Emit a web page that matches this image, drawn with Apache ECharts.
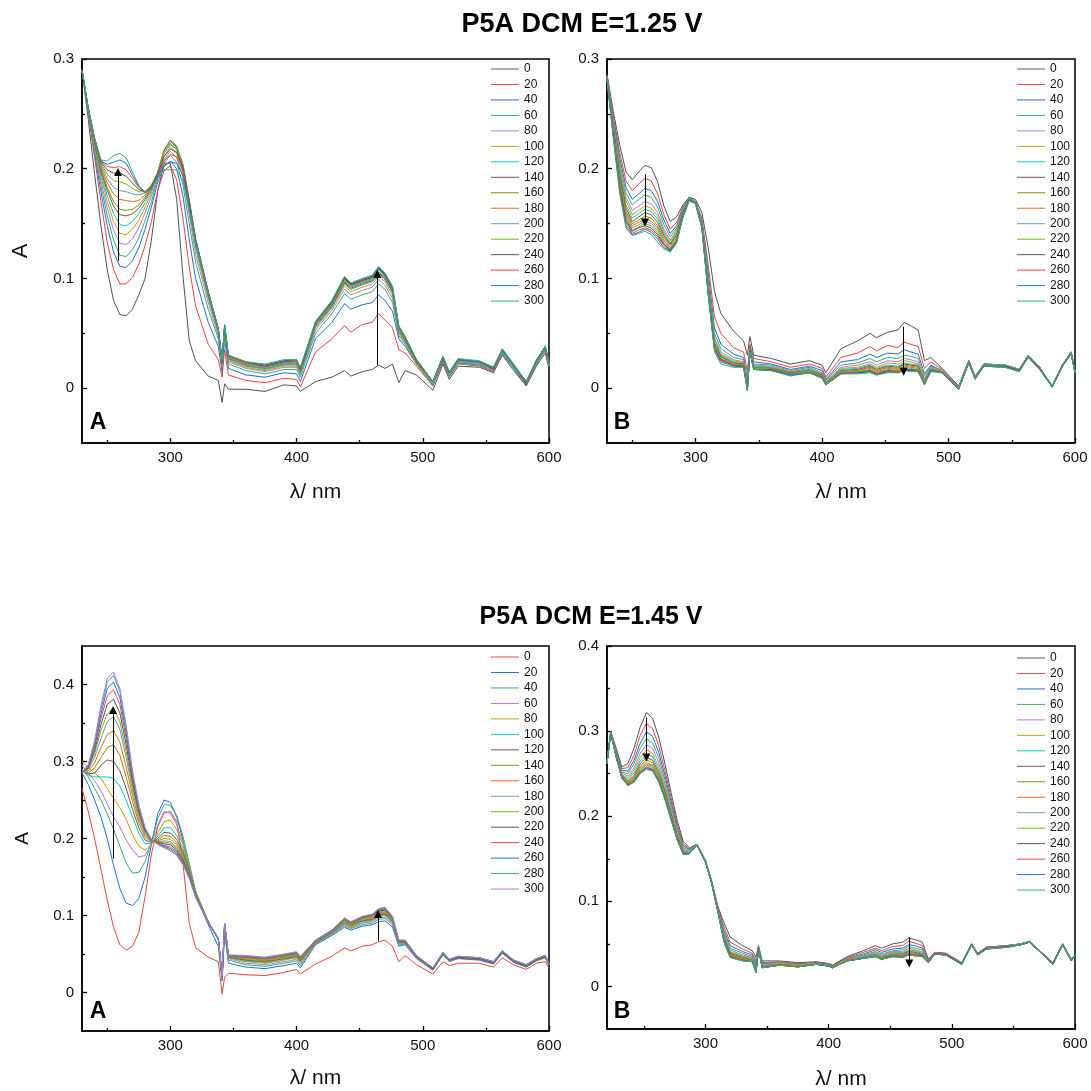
<!DOCTYPE html>
<html><head><meta charset="utf-8">
<script src="https://cdn.jsdelivr.net/npm/echarts@6/dist/echarts.min.js"></script>
<style>html,body{margin:0;padding:0;background:#fff}#c{width:1091px;height:1091px}</style>
</head><body><div id="c"></div><script>
// ---------- DATA ----------
const times = ['0','20','40','60','80','100','120','140','160','180','200','220','240','260','280','300'];
const wlA = [230,235,240,245,250,255,260,265,270,275,280,285,290,295,300,305,310,315,320,330,338,341,343,346,360,375,390,400,403,415,428,438,443,452,460,465,470,476,481,486,495,508,516,521,528,545,556,563,572,582,590,597,600];
const wlB = [220,223,227,232,237,242,247,252,257,262,267,272,277,282,287,293,300,305,310,315,320,330,338,341,343,346,360,375,390,400,403,415,428,438,443,452,460,465,470,476,481,486,495,508,516,521,528,545,556,563,572,582,590,597,600];
const xTicks = [300,400,500,600];
const xMinorTicks = [250,350,450,550];
const yTicks125 = [0,0.1,0.2,0.3];
const yMinor125 = [0.05,0.15,0.25];
const yTicksBL = [0,0.1,0.2,0.3,0.4];
const yMinorBL = [0.05,0.15,0.25,0.35];
const yTicksBR = [0,0.1,0.2,0.3,0.4];
const yMinorBR = [0.05,0.15,0.25,0.35];

// Top-left: E=1.25 V, A
const TL_0   = [.290,.245,.195,.148,.108,.080,.067,.066,.072,.085,.100,.135,.180,.205, .205,.172,.102,.043,.025,.011, .007,-.013,.004,-.001, -.001,-.003,.003,.002,-.003, .006,.010,.016,.011,.015,.017,.021,.018,.022,.005,.016, .012,-.002,.022,.008,.020,.019,.014,.030,.016,.002,.020,.032,.018];
const TL_20  = [.290,.250,.210,.170,.133,.108,.095,.095,.101,.113,.130,.152,.180,.198, .203,.190,.155,.110,.075,.040, .026,.010,.035,.012, .007,.005,.009,.008,.001, .033,.045,.057,.051,.058,.060,.068,.062,.055,.035,.032, .020,.002,.024,.010,.022,.020,.015,.031,.018,.002,.022,.034,.020];
const TL_40  = [.290,.251,.214,.179,.148,.124,.111,.110,.116,.128,.145,.165,.188,.202, .207,.200,.175,.135,.100,.060, .038,.015,.045,.018, .012,.010,.014,.013,.006, .045,.060,.077,.072,.076,.078,.085,.080,.070,.045,.038, .022,.003,.025,.011,.023,.021,.016,.032,.018,.003,.022,.035,.020];
const TL_60  = [.290,.252,.217,.185,.157,.135,.121,.120,.126,.137,.153,.170,.191,.205, .212,.206,.185,.150,.115,.072, .045,.018,.050,.022, .016,.013,.017,.017,.010, .050,.068,.086,.081,.085,.088,.095,.090,.078,.048,.040, .022,.003,.026,.011,.023,.021,.016,.032,.018,.003,.022,.035,.020];
const TL_80  = [.290,.252,.219,.189,.164,.144,.132,.131,.136,.146,.160,.175,.193,.208, .216,.210,.192,.158,.122,.078, .048,.020,.052,.024, .018,.015,.019,.019,.012, .053,.071,.090,.085,.089,.092,.099,.094,.082,.050,.041, .023,.004,.026,.012,.024,.022,.016,.033,.019,.004,.023,.035,.021];
const TL_100 = [.290,.253,.221,.193,.170,.152,.141,.140,.145,.153,.165,.178,.195,.211, .220,.214,.196,.162,.127,.082, .050,.021,.053,.025, .019,.016,.020,.020,.013, .055,.073,.093,.088,.092,.095,.102,.097,.085,.051,.042, .023,.004,.027,.012,.024,.022,.017,.033,.019,.004,.023,.036,.021];
const TL_120 = [.290,.253,.222,.196,.175,.159,.149,.148,.152,.159,.169,.180,.196,.214, .223,.217,.199,.165,.130,.084, .051,.022,.054,.026, .020,.017,.021,.021,.014, .056,.074,.095,.090,.094,.097,.104,.099,.087,.052,.043, .024,.004,.027,.012,.024,.022,.017,.033,.019,.004,.023,.036,.021];
const TL_140 = [.290,.254,.223,.198,.180,.166,.158,.157,.159,.164,.172,.182,.197,.216, .225,.219,.201,.167,.132,.085, .052,.022,.055,.027, .021,.018,.022,.022,.015, .057,.075,.096,.091,.095,.098,.105,.100,.088,.053,.044, .024,.005,.027,.013,.025,.023,.017,.034,.020,.004,.024,.036,.022];
const TL_160 = [.290,.254,.224,.200,.183,.170,.163,.162,.163,.167,.174,.183,.197,.217, .226,.220,.203,.169,.134,.086, .053,.023,.055,.027, .021,.018,.022,.023,.015, .058,.076,.097,.092,.096,.099,.106,.101,.089,.054,.044, .024,.005,.027,.013,.025,.023,.018,.034,.020,.005,.024,.037,.022];
const TL_180 = [.290,.254,.225,.202,.187,.177,.172,.171,.170,.171,.176,.184,.197,.217, .226,.221,.204,.170,.135,.087, .053,.023,.056,.028, .022,.019,.023,.023,.016, .058,.077,.098,.093,.097,.100,.108,.102,.090,.054,.045, .025,.005,.028,.013,.025,.023,.018,.034,.020,.005,.024,.037,.022];
const TL_200 = [.290,.255,.226,.204,.191,.183,.180,.179,.177,.176,.178,.185,.196,.216, .225,.220,.204,.171,.136,.088, .054,.024,.056,.028, .022,.019,.023,.024,.016, .059,.077,.099,.093,.097,.100,.108,.102,.090,.055,.045, .025,.005,.028,.013,.025,.023,.018,.034,.020,.005,.024,.037,.022];
const TL_220 = [.290,.255,.226,.205,.195,.189,.188,.186,.182,.179,.179,.185,.196,.214, .222,.218,.203,.171,.136,.088, .054,.024,.057,.029, .023,.020,.024,.024,.017, .059,.078,.099,.094,.098,.101,.109,.103,.091,.055,.046, .025,.006,.028,.014,.026,.024,.018,.035,.021,.005,.025,.038,.023];
const TL_240 = [.290,.255,.227,.206,.199,.196,.196,.193,.187,.181,.179,.184,.195,.211, .218,.215,.201,.170,.136,.088, .054,.024,.057,.029, .023,.020,.024,.025,.017, .060,.078,.100,.094,.098,.101,.109,.103,.091,.056,.046, .025,.006,.028,.014,.026,.024,.018,.035,.021,.005,.025,.038,.023];
const TL_260 = [.290,.255,.227,.207,.202,.201,.202,.199,.191,.183,.179,.183,.194,.207, .213,.211,.198,.168,.135,.088, .054,.025,.057,.029, .023,.021,.025,.025,.018, .060,.079,.101,.095,.099,.102,.110,.104,.092,.056,.047, .026,.006,.029,.014,.026,.024,.019,.035,.021,.006,.025,.038,.023];
const TL_280 = [.290,.255,.228,.207,.204,.206,.208,.205,.194,.184,.178,.182,.193,.203, .206,.205,.194,.166,.134,.087, .054,.025,.057,.030, .024,.021,.025,.026,.018, .060,.079,.101,.095,.099,.102,.110,.104,.092,.056,.047, .026,.006,.029,.014,.026,.024,.019,.035,.021,.006,.025,.038,.023];
const TL_300 = [.290,.255,.228,.208,.207,.212,.214,.210,.197,.185,.178,.181,.192,.199, .199,.199,.189,.163,.132,.087, .054,.025,.058,.030, .024,.022,.026,.026,.019, .061,.080,.102,.096,.100,.103,.111,.105,.093,.057,.047, .026,.006,.029,.015,.027,.025,.019,.036,.022,.006,.026,.038,.024];

// Top-right: E=1.25 V, B
const TR_0   = [.286,.252,.222,.197,.190,.197,.203,.201,.188,.166,.152,.156,.167,.174, .172,.160,.128,.088,.068,.052, .043,.030,.047,.030, .027,.022,.025,.021,.014, .036,.043,.050,.046,.051,.053,.060,.057,.053,.025,.028, .018,.002,.025,.011,.022,.021,.017,.030,.019,.002,.021,.033,.016];
const TR_20  = [.285,.248,.215,.189,.180,.186,.191,.189,.177,.158,.145,.151,.165,.174, .170,.155,.112,.065,.050,.037, .033,.015,.040,.027, .024,.019,.022,.018,.010, .028,.032,.038,.034,.039,.037,.042,.040,.038,.018,.024, .017,.001,.025,.010,.022,.021,.017,.030,.019,.002,.021,.033,.015];
const TR_40  = [.285,.245,.210,.183,.172,.177,.182,.180,.170,.153,.141,.148,.164,.174, .170,.153,.105,.055,.040,.031, .028,.008,.038,.024, .022,.017,.020,.016,.008, .024,.026,.031,.028,.032,.031,.035,.033,.031,.013,.021, .016,.001,.025,.010,.022,.021,.017,.030,.019,.002,.021,.033,.015];
const TR_60  = [.284,.243,.206,.178,.167,.172,.176,.174,.165,.149,.138,.146,.163,.173, .170,.152,.100,.050,.036,.028, .026,.005,.037,.022, .021,.016,.019,.014,.007, .021,.023,.027,.024,.028,.027,.030,.029,.027,.011,.020, .016,.001,.024,.010,.022,.021,.017,.030,.019,.002,.021,.033,.015];
const TR_80  = [.284,.241,.202,.174,.162,.166,.170,.168,.160,.145,.135,.144,.162,.173, .169,.151,.097,.046,.033,.026, .024,.003,.036,.021, .020,.015,.018,.013,.006, .019,.021,.024,.021,.025,.024,.027,.026,.024,.009,.019, .016,.001,.024,.010,.021,.021,.017,.030,.019,.002,.021,.032,.015];
const TR_100 = [.284,.240,.200,.171,.158,.162,.166,.164,.157,.143,.134,.143,.161,.173, .169,.150,.095,.044,.031,.025, .023,.002,.036,.020, .019,.015,.017,.013,.006, .018,.019,.022,.019,.023,.022,.025,.024,.022,.008,.018, .016,.000,.024,.010,.021,.021,.017,.030,.019,.002,.021,.032,.015];
const TR_120 = [.283,.238,.197,.167,.155,.159,.163,.161,.154,.141,.132,.141,.160,.173, .169,.150,.093,.042,.030,.024, .022,.001,.035,.020, .019,.014,.017,.012,.005, .017,.018,.021,.018,.021,.020,.023,.022,.021,.007,.018, .015,.000,.024,.010,.021,.021,.017,.030,.019,.002,.021,.032,.015];
const TR_140 = [.283,.237,.195,.164,.152,.156,.160,.158,.151,.139,.131,.140,.160,.172, .169,.149,.092,.041,.029,.023, .022,.000,.035,.019, .018,.014,.016,.012,.005, .016,.017,.020,.017,.020,.019,.022,.021,.020,.006,.017, .015,.000,.024,.009,.021,.020,.016,.029,.018,.001,.021,.032,.015];
const TR_160 = [.283,.235,.192,.161,.150,.153,.157,.155,.148,.137,.130,.139,.159,.172, .169,.149,.091,.040,.028,.023, .021,.000,.035,.019, .018,.013,.016,.011,.004, .016,.016,.019,.016,.019,.018,.021,.020,.019,.006,.017, .015,.000,.024,.009,.021,.020,.016,.029,.018,.001,.020,.032,.014];
const TR_180 = [.283,.234,.190,.159,.148,.151,.154,.152,.146,.135,.128,.137,.158,.172, .168,.148,.090,.039,.027,.022, .021,-.001,.034,.018, .018,.013,.015,.011,.004, .015,.016,.018,.015,.018,.017,.020,.019,.018,.005,.017, .015,.000,.024,.009,.021,.020,.016,.029,.018,.001,.020,.032,.014];
const TR_200 = [.282,.233,.188,.157,.146,.149,.152,.150,.144,.134,.127,.136,.158,.172, .168,.148,.089,.038,.027,.022, .020,-.001,.034,.018, .017,.013,.015,.011,.004, .015,.015,.017,.014,.017,.016,.019,.018,.017,.005,.016, .015,.000,.023,.009,.021,.020,.016,.029,.018,.001,.020,.032,.014];
const TR_220 = [.282,.232,.186,.155,.144,.147,.150,.148,.142,.132,.126,.135,.157,.172, .168,.147,.088,.037,.026,.021, .020,-.001,.034,.018, .017,.012,.015,.010,.003, .014,.015,.016,.014,.016,.016,.018,.017,.017,.004,.016, .014,.000,.023,.009,.020,.020,.016,.029,.018,.001,.020,.031,.014];
const TR_240 = [.282,.231,.184,.153,.143,.146,.148,.146,.140,.131,.126,.134,.157,.172, .168,.147,.087,.036,.026,.021, .020,-.002,.034,.017, .017,.012,.014,.010,.003, .014,.014,.016,.013,.016,.015,.017,.017,.016,.004,.016, .014,-.001,.023,.009,.020,.020,.016,.029,.018,.001,.020,.031,.014];
const TR_260 = [.282,.230,.182,.151,.141,.144,.146,.144,.138,.130,.125,.133,.156,.171, .168,.147,.086,.036,.025,.021, .019,-.002,.033,.017, .016,.012,.014,.010,.003, .014,.014,.015,.013,.015,.015,.017,.016,.016,.004,.016, .014,-.001,.023,.009,.020,.019,.016,.029,.018,.001,.020,.031,.014];
const TR_280 = [.281,.229,.180,.148,.140,.142,.145,.142,.136,.128,.125,.133,.156,.171, .168,.146,.086,.035,.024,.020, .019,-.002,.033,.017, .016,.012,.014,.009,.003, .013,.014,.015,.012,.015,.014,.016,.016,.015,.003,.016, .014,-.001,.023,.008,.020,.019,.015,.028,.017,.001,.020,.031,.014];
const TR_300 = [.281,.228,.178,.146,.139,.141,.143,.140,.133,.127,.124,.132,.155,.171, .168,.146,.085,.033,.022,.019, .019,-.002,.033,.017, .016,.011,.014,.009,.003, .013,.013,.014,.012,.014,.014,.016,.015,.015,.003,.015, .014,-.001,.023,.008,.020,.019,.015,.028,.017,.001,.020,.031,.014];

// Bottom-left: E=1.45 V, A
const BL_0   = [.265,.235,.200,.160,.120,.085,.062,.055,.060,.078,.125,.180,.215,.233, .235,.222,.168,.090,.058,.046,.040, -.002,.020,.025, .023,.022,.026,.030,.024, .037,.047,.058,.054,.060,.062,.066,.068,.060,.040,.048, .036,.024,.040,.035,.038,.038,.033,.045,.036,.030,.038,.040,.032];
const BL_20  = [.285,.270,.250,.228,.200,.165,.135,.116,.113,.122,.150,.192,.232,.250, .247,.228,.198,.160,.128,.088,.060, .015,.078,.038, .033,.031,.035,.038,.032, .062,.074,.085,.081,.086,.088,.092,.093,.085,.060,.062, .044,.029,.049,.040,.044,.042,.037,.051,.039,.033,.041,.045,.035];
const BL_40  = [.290,.280,.265,.250,.232,.212,.190,.168,.155,.156,.170,.195,.226,.244, .243,.230,.203,.168,.132,.092,.068, .017,.082,.042, .036,.034,.038,.041,.035, .063,.075,.087,.083,.088,.090,.095,.096,.088,.062,.063, .045,.030,.050,.041,.045,.043,.038,.052,.040,.034,.042,.046,.036];
const BL_60  = [.295,.285,.275,.262,.245,.228,.215,.198,.185,.176,.178,.193,.217,.235, .233,.218,.195,.163,.130,.092,.070, .018,.085,.044, .038,.036,.040,.043,.037, .064,.076,.088,.084,.090,.092,.097,.098,.090,.063,.064, .045,.030,.050,.041,.045,.043,.038,.052,.040,.034,.042,.046,.036];
const BL_80  = [.300,.292,.285,.278,.265,.252,.240,.225,.205,.190,.185,.192,.207,.222, .224,.212,.192,.162,.130,.092,.070, .019,.086,.045, .040,.038,.042,.045,.039, .064,.077,.089,.085,.091,.093,.099,.100,.091,.064,.064, .045,.030,.050,.041,.045,.043,.038,.052,.040,.034,.042,.046,.036];
const BL_100 = [.290,.282,.280,.280,.280,.278,.268,.250,.228,.207,.193,.194,.203,.214, .214,.204,.187,.160,.129,.092,.070, .019,.087,.046, .041,.039,.043,.046,.040, .065,.077,.090,.086,.092,.094,.100,.101,.092,.064,.065, .046,.030,.050,.041,.045,.043,.038,.052,.040,.034,.042,.046,.036];
const BL_120 = [.288,.284,.285,.295,.302,.300,.288,.265,.238,.214,.198,.195,.200,.208, .207,.199,.183,.158,.128,.092,.070, .020,.087,.046, .042,.040,.044,.047,.041, .065,.078,.091,.087,.093,.095,.101,.102,.093,.065,.065, .046,.030,.050,.042,.045,.043,.038,.052,.040,.034,.042,.046,.036];
const BL_140 = [.287,.285,.292,.305,.318,.322,.308,.280,.248,.220,.202,.196,.198,.204, .203,.195,.180,.156,.127,.091,.070, .020,.088,.047, .043,.041,.045,.048,.042, .066,.078,.092,.087,.094,.096,.102,.103,.094,.065,.066, .046,.031,.051,.042,.046,.044,.039,.053,.041,.035,.043,.047,.037];
const BL_160 = [.287,.288,.298,.318,.335,.340,.325,.293,.256,.225,.205,.196,.197,.200, .199,.192,.178,.155,.126,.091,.070, .020,.088,.047, .044,.042,.046,.049,.043, .066,.079,.093,.088,.095,.097,.103,.104,.095,.066,.066, .046,.031,.051,.042,.046,.044,.039,.053,.041,.035,.043,.047,.037];
const BL_180 = [.286,.290,.305,.330,.352,.358,.342,.305,.263,.229,.207,.197,.196,.197, .196,.189,.176,.154,.126,.091,.070, .021,.088,.047, .045,.043,.047,.050,.044, .066,.079,.093,.089,.095,.098,.104,.105,.095,.066,.066, .046,.031,.051,.042,.046,.044,.039,.053,.041,.035,.043,.047,.037];
const BL_200 = [.286,.291,.310,.340,.362,.369,.352,.313,.268,.232,.208,.197,.195,.195, .194,.187,.174,.153,.126,.091,.070, .021,.089,.048, .045,.043,.047,.050,.044, .067,.080,.094,.089,.096,.099,.105,.106,.096,.066,.067, .047,.031,.051,.042,.046,.044,.039,.053,.041,.035,.043,.047,.037];
const BL_220 = [.286,.292,.314,.348,.374,.381,.363,.322,.273,.235,.210,.198,.195,.193, .192,.185,.172,.152,.125,.090,.070, .021,.089,.048, .046,.044,.048,.051,.045, .067,.080,.095,.090,.097,.100,.106,.107,.097,.067,.067, .047,.031,.051,.042,.046,.044,.039,.053,.041,.035,.043,.047,.037];
const BL_240 = [.286,.293,.318,.356,.385,.393,.374,.330,.278,.238,.211,.198,.194,.191, .189,.183,.170,.151,.125,.090,.070, .021,.089,.048, .046,.044,.048,.051,.045, .067,.080,.095,.090,.097,.100,.107,.108,.097,.067,.067, .047,.032,.052,.043,.047,.045,.040,.054,.042,.036,.044,.048,.038];
const BL_260 = [.286,.294,.322,.362,.395,.403,.383,.337,.282,.240,.212,.198,.193,.190, .187,.181,.168,.150,.124,.090,.070, .021,.089,.048, .047,.045,.049,.052,.046, .068,.081,.096,.091,.098,.101,.108,.109,.098,.067,.067, .047,.032,.052,.043,.047,.045,.040,.054,.042,.036,.044,.048,.038];
const BL_280 = [.286,.295,.325,.368,.403,.412,.391,.343,.285,.242,.213,.199,.193,.189, .185,.179,.167,.149,.124,.090,.070, .021,.090,.048, .047,.045,.049,.052,.046, .068,.081,.096,.091,.098,.101,.108,.110,.098,.068,.068, .048,.032,.052,.043,.047,.045,.040,.054,.042,.036,.044,.048,.038];
const BL_300 = [.286,.296,.327,.372,.408,.416,.395,.347,.288,.244,.214,.199,.192,.188, .184,.178,.166,.148,.124,.090,.070, .021,.090,.049, .048,.046,.050,.053,.047, .068,.081,.097,.092,.099,.102,.109,.111,.099,.068,.068, .048,.032,.052,.043,.047,.045,.040,.054,.042,.036,.044,.048,.038];

// Bottom-right: E=1.45 V, B
const BR_0   = [.265,.300,.282,.258,.262,.280,.305,.322,.315,.293,.262,.228,.195,.170,.163,.167, .148,.124,.094,.075,.058,.048, .042,.034,.048,.030, .030,.028,.029,.027,.025, .035,.042,.048,.045,.050,.052,.057,.055,.052,.032,.040, .039,.028,.050,.039,.046,.048,.050,.053,.041,.028,.050,.032,.037];
const BR_20  = [.264,.300,.280,.256,.257,.272,.295,.309,.303,.283,.254,.222,.191,.167,.162,.167, .148,.123,.093,.070,.052,.044, .039,.030,.047,.028, .029,.027,.028,.026,.024, .034,.040,.045,.042,.047,.048,.053,.051,.048,.031,.040, .039,.028,.050,.039,.046,.048,.050,.053,.041,.028,.050,.032,.037];
const BR_40  = [.264,.299,.279,.254,.253,.266,.286,.299,.294,.275,.248,.217,.187,.165,.161,.167, .147,.123,.092,.066,.048,.041, .037,.027,.046,.027, .028,.026,.028,.026,.024, .033,.038,.043,.040,.044,.045,.049,.048,.045,.030,.039, .038,.027,.050,.038,.046,.048,.050,.053,.041,.027,.050,.032,.037];
const BR_60  = [.264,.299,.277,.252,.250,.262,.280,.291,.286,.269,.243,.213,.184,.163,.160,.167, .147,.123,.091,.063,.045,.039, .035,.025,.046,.026, .028,.026,.027,.025,.023, .033,.037,.041,.038,.042,.043,.047,.045,.043,.030,.039, .038,.027,.050,.038,.045,.048,.050,.053,.041,.027,.050,.031,.037];
const BR_80  = [.263,.299,.276,.251,.247,.257,.274,.284,.280,.263,.238,.210,.182,.161,.159,.166, .147,.122,.091,.061,.043,.037, .034,.023,.045,.025, .027,.025,.027,.025,.023, .032,.036,.040,.037,.041,.041,.045,.043,.041,.029,.039, .038,.027,.050,.038,.045,.048,.050,.053,.041,.027,.050,.031,.037];
const BR_100 = [.263,.299,.275,.249,.245,.254,.269,.278,.274,.258,.234,.207,.180,.160,.158,.166, .147,.122,.090,.059,.041,.036, .033,.022,.045,.024, .027,.025,.027,.025,.023, .032,.035,.039,.036,.040,.040,.043,.042,.040,.029,.039, .038,.027,.049,.038,.045,.047,.050,.052,.041,.027,.049,.031,.037];
const BR_120 = [.263,.299,.275,.248,.243,.251,.265,.273,.270,.254,.231,.205,.178,.159,.158,.166, .147,.122,.090,.058,.040,.035, .032,.021,.045,.024, .026,.024,.026,.024,.022, .031,.035,.038,.035,.039,.039,.042,.041,.039,.029,.038, .038,.027,.049,.038,.045,.047,.050,.052,.041,.027,.049,.031,.037];
const BR_140 = [.263,.298,.274,.248,.241,.248,.262,.269,.266,.251,.229,.203,.177,.158,.157,.166, .147,.122,.089,.057,.039,.034, .031,.020,.045,.023, .026,.024,.026,.024,.022, .031,.034,.037,.034,.038,.038,.041,.040,.038,.029,.038, .038,.027,.049,.038,.045,.047,.049,.052,.041,.027,.049,.031,.037];
const BR_160 = [.263,.298,.274,.247,.240,.246,.259,.266,.263,.248,.227,.201,.176,.157,.157,.166, .146,.122,.089,.056,.038,.033, .031,.019,.044,.023, .026,.024,.026,.024,.022, .031,.034,.037,.034,.037,.037,.040,.039,.037,.028,.038, .037,.026,.049,.037,.045,.047,.049,.052,.040,.026,.049,.031,.036];
const BR_180 = [.262,.298,.273,.247,.239,.245,.257,.263,.260,.246,.225,.200,.175,.157,.157,.166, .146,.122,.089,.055,.037,.033, .030,.018,.044,.023, .026,.024,.026,.024,.022, .031,.034,.036,.033,.037,.036,.039,.038,.037,.028,.038, .037,.026,.049,.037,.045,.047,.049,.052,.040,.026,.049,.031,.036];
const BR_200 = [.262,.298,.273,.246,.238,.244,.255,.261,.259,.245,.224,.199,.174,.156,.157,.166, .146,.121,.088,.054,.036,.032, .030,.018,.044,.022, .025,.023,.026,.024,.022, .030,.034,.036,.033,.036,.036,.039,.038,.036,.028,.038, .037,.026,.049,.037,.044,.047,.049,.052,.040,.026,.049,.030,.036];
const BR_220 = [.262,.298,.273,.246,.238,.243,.254,.260,.257,.244,.223,.198,.174,.156,.156,.166, .146,.121,.088,.054,.036,.032, .030,.017,.044,.022, .025,.023,.026,.024,.022, .030,.033,.036,.033,.036,.035,.038,.037,.036,.028,.038, .037,.026,.049,.037,.044,.047,.049,.052,.040,.026,.049,.030,.036];
const BR_240 = [.262,.298,.272,.246,.237,.242,.252,.258,.255,.242,.222,.197,.173,.156,.156,.166, .146,.121,.088,.053,.035,.031, .029,.017,.044,.022, .025,.023,.026,.024,.022, .030,.033,.035,.032,.036,.035,.038,.037,.036,.028,.038, .037,.026,.049,.037,.044,.047,.049,.052,.040,.026,.049,.030,.036];
const BR_260 = [.262,.298,.272,.245,.237,.241,.252,.257,.255,.242,.221,.197,.173,.155,.156,.166, .146,.121,.088,.053,.035,.031, .029,.017,.044,.022, .025,.023,.026,.024,.022, .030,.033,.035,.032,.035,.035,.038,.037,.035,.028,.038, .037,.026,.049,.037,.044,.046,.049,.052,.040,.026,.049,.030,.036];
const BR_280 = [.262,.298,.272,.245,.236,.240,.251,.256,.254,.241,.220,.196,.172,.155,.156,.166, .146,.121,.088,.052,.034,.030, .029,.016,.044,.022, .025,.023,.026,.024,.022, .030,.033,.035,.032,.035,.034,.037,.036,.035,.028,.038, .037,.026,.049,.037,.044,.046,.049,.052,.040,.026,.049,.030,.036];
const BR_300 = [.262,.298,.272,.245,.236,.240,.250,.255,.253,.240,.220,.196,.172,.155,.156,.166, .146,.121,.088,.052,.034,.030, .029,.016,.044,.022, .025,.023,.026,.024,.022, .030,.033,.035,.032,.035,.034,.037,.036,.035,.028,.038, .037,.026,.049,.037,.044,.046,.049,.052,.040,.026,.049,.030,.036];

// arrows: [x1, y1, x2, y2] (arrow head at x2,y2)
const arrowsTL = [[258.5,0.116,258.5,0.197],[464,0.021,464,0.104]];
const arrowsTR = [[260,0.195,260,0.151],[464.5,0.056,464.5,0.015]];
const arrowsBL = [[254.6,0.174,254.6,0.367],[464.5,0.067,464.5,0.102]];
const arrowsBR = [[252,0.316,252,0.269],[465.4,0.058,465.4,0.027]];

const titles = ['P5A DCM E=1.25 V','P5A DCM E=1.45 V'];

// ---------- CHART ----------
const FONT = '"Liberation Sans", Arial, Helvetica, sans-serif';
const palette = ['#515151','#F14040','#1A6FDF','#37AD6B','#B177DE','#CC9900','#00CBCC','#7D4E4E','#8E8E00','#FB6501','#6699CC','#6FB802'];

const panels = [
  {id:'TL', curves:[TL_0,TL_20,TL_40,TL_60,TL_80,TL_100,TL_120,TL_140,TL_160,TL_180,TL_200,TL_220,TL_240,TL_260,TL_280,TL_300], wl:wlA,
   grid:{left:82,top:59,width:467,height:384}, xr:[230,600], yr:[-0.05,0.3], yT:yTicks125, yM:yMinor125, shift:0, leg:[491,63], arrows:arrowsTL,
   yName:'A', yNameSize:22, yNameGap:50, xNameGap:39},
  {id:'TR', curves:[TR_0,TR_20,TR_40,TR_60,TR_80,TR_100,TR_120,TR_140,TR_160,TR_180,TR_200,TR_220,TR_240,TR_260,TR_280,TR_300], wl:wlA,
   grid:{left:607,top:59,width:468,height:384}, xr:[230,600], yr:[-0.05,0.3], yT:yTicks125, yM:yMinor125, shift:0, leg:[1017,63], arrows:arrowsTR,
   yName:'', yNameSize:22, yNameGap:50, xNameGap:39},
  {id:'BL', curves:[BL_0,BL_20,BL_40,BL_60,BL_80,BL_100,BL_120,BL_140,BL_160,BL_180,BL_200,BL_220,BL_240,BL_260,BL_280,BL_300], wl:wlA,
   grid:{left:82,top:646,width:467,height:385}, xr:[230,600], yr:[-0.05,0.45], yT:yTicksBL, yM:yMinorBL, shift:1, leg:[491,651], arrows:arrowsBL,
   yName:'A', yNameSize:19, yNameGap:50, xNameGap:37},
  {id:'BR', curves:[BR_0,BR_20,BR_40,BR_60,BR_80,BR_100,BR_120,BR_140,BR_160,BR_180,BR_200,BR_220,BR_240,BR_260,BR_280,BR_300], wl:wlB,
   grid:{left:607,top:646,width:468,height:385}, xr:[220,600], yr:[-0.05,0.4], yT:yTicksBR, yM:yMinorBR, shift:0, leg:[1017,652], arrows:arrowsBR,
   yName:'', yNameSize:19, yNameGap:50, xNameGap:40}
];

const option = {animation:false, backgroundColor:'#fff', grid:[], xAxis:[], yAxis:[], legend:[], series:[], graphic:[]};
const axisLineStyle = {color:'#000', width:1.5};
const tickStyle = {color:'#000', width:1.3};
const legendLineIcon = 'path://M0,0L40,0L40,1.4L0,1.4Z';

panels.forEach((p, gi) => {
  option.grid.push(Object.assign({show:true, borderColor:'#000', borderWidth:1.5, backgroundColor:'transparent'}, p.grid));
  const xi = option.xAxis.length;
  option.xAxis.push({type:'value', gridIndex:gi, position:'bottom', min:p.xr[0], max:p.xr[1],
    name:'λ/ nm', nameLocation:'middle', nameGap:p.xNameGap, nameTextStyle:{fontSize:21, fontFamily:FONT, color:'#111'},
    axisLine:{show:true, onZero:false, lineStyle:axisLineStyle},
    axisTick:{show:true, inside:true, length:5, customValues:xTicks, lineStyle:tickStyle},
    axisLabel:{customValues:xTicks, fontSize:15, fontFamily:FONT, color:'#111', margin:7},
    splitLine:{show:false}});
  option.xAxis.push({type:'value', gridIndex:gi, position:'bottom', offset:0, min:p.xr[0], max:p.xr[1],
    axisLine:{show:false, onZero:false},
    axisTick:{show:true, inside:true, length:3, customValues:xMinorTicks, lineStyle:tickStyle},
    axisLabel:{show:false}, splitLine:{show:false}});
  const yi = option.yAxis.length;
  option.yAxis.push({type:'value', gridIndex:gi, position:'left', min:p.yr[0], max:p.yr[1],
    name:p.yName, nameLocation:'middle', nameGap:p.yNameGap, nameRotate:90, nameTextStyle:{fontSize:p.yNameSize, fontFamily:FONT, color:'#111'},
    axisLine:{show:true, onZero:false, lineStyle:axisLineStyle},
    axisTick:{show:true, inside:true, length:5, customValues:p.yT, lineStyle:tickStyle},
    axisLabel:{customValues:p.yT, fontSize:15, fontFamily:FONT, color:'#111', margin:8,
      formatter:v => Math.abs(v) < 1e-9 ? '0' : (+v).toFixed(1)},
    splitLine:{show:false}});
  option.yAxis.push({type:'value', gridIndex:gi, position:'left', offset:0, min:p.yr[0], max:p.yr[1],
    axisLine:{show:false, onZero:false},
    axisTick:{show:true, inside:true, length:3, customValues:p.yM, lineStyle:tickStyle},
    axisLabel:{show:false}, splitLine:{show:false}});

  p.curves.forEach((arr, k) => {
    const col = palette[(k + p.shift) % palette.length];
    const s = {type:'line', name:p.id + ' ' + times[k], xAxisIndex:xi, yAxisIndex:yi,
      data:p.wl.map((w, j) => [w, arr[j]]), showSymbol:false, symbol:'none',
      lineStyle:{width:1, color:col}, itemStyle:{color:col}, emphasis:{disabled:true}, silent:true, z:2};
    if (k === p.curves.length - 1) {
      s.markLine = {silent:true, symbol:['none','triangle'], symbolSize:8, animation:false,
        label:{show:false}, lineStyle:{color:'#000', width:1, type:'solid'}, emphasis:{disabled:true},
        data:p.arrows.map(a => [{coord:[a[0], a[1]]}, {coord:[a[2], a[3]]}])};
    }
    option.series.push(s);
  });

  option.legend.push({orient:'vertical', left:p.leg[0], top:p.leg[1], padding:0, itemWidth:28, itemHeight:12, itemGap:3.47,
    icon:legendLineIcon, symbolKeepAspect:true,
    selectedMode:false, data:times.map(t => p.id + ' ' + t), formatter:n => n.split(' ')[1],
    textStyle:{fontSize:12, fontFamily:FONT, color:'#111'}});
});

option.graphic = [
  {type:'text', x:582, y:25, style:{text:titles[0], font:'bold 27px ' + FONT, fill:'#000', textAlign:'center', textVerticalAlign:'middle'}},
  {type:'text', x:591, y:617, style:{text:titles[1], font:'bold 25px ' + FONT, fill:'#000', textAlign:'center', textVerticalAlign:'middle'}},
  {type:'text', x:98, y:423, style:{text:'A', font:'bold 23px ' + FONT, fill:'#000', textAlign:'center', textVerticalAlign:'middle'}},
  {type:'text', x:622, y:423, style:{text:'B', font:'bold 23px ' + FONT, fill:'#000', textAlign:'center', textVerticalAlign:'middle'}},
  {type:'text', x:98, y:1012, style:{text:'A', font:'bold 23px ' + FONT, fill:'#000', textAlign:'center', textVerticalAlign:'middle'}},
  {type:'text', x:622, y:1012, style:{text:'B', font:'bold 23px ' + FONT, fill:'#000', textAlign:'center', textVerticalAlign:'middle'}}
];

const chart = echarts.init(document.getElementById('c'), null, {renderer:'canvas', width:1091, height:1091});
chart.setOption(option);
</script></body></html>
